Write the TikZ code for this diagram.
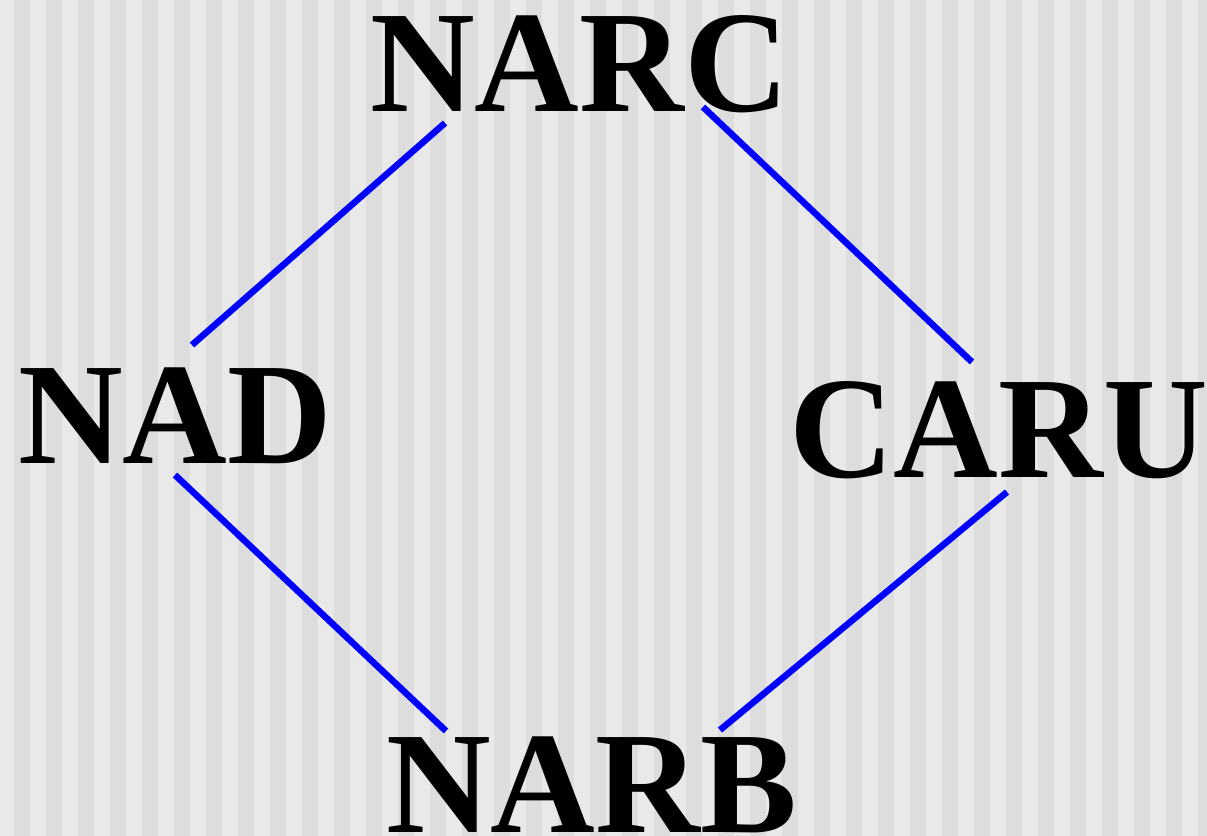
\documentclass[tikz,border=0pt]{standalone}
\usepackage{fontspec}
\setmainfont{Liberation Serif}
\usetikzlibrary{calc}
\definecolor{bglight}{HTML}{E9E9E9}
\definecolor{bgdark}{HTML}{DDDDDD}
\definecolor{linkblue}{HTML}{0000FF}
\tikzset{
  term/.style={anchor=base west, inner sep=0pt, outer sep=0pt,
    text height=99bp, text depth=0bp,
    font=\fontsize{145bp}{150bp}\selectfont\bfseries},
  link/.style={draw=linkblue, line width=6.5bp, line cap=butt}
}
\begin{document}
\begin{tikzpicture}[x=1bp, y=-1bp]
  % striped backdrop
  \fill[bglight] (0,0) rectangle (1207,836);
  \foreach \k in {0,...,37}{
    \fill[bgdark] ({14+32*\k},0) rectangle ({min(30+32*\k,1207)},836);
  }
  \useasboundingbox (0,0) rectangle (1207,836);

  % lattice elements
  \node[term] (narc) at (370,111) {NARC};
  \node[term] (nad)  at (18,463)  {NAD};
  \node[term] (caru) at (789,477) {CARU};
  \node[term] (narb) at (386,832) {NARB};

  % covering relations
  \draw[link] ($(narc.base west)+(75,12)$)  -- ($(nad.base west)+(174,-118)$);
  \draw[link] ($(narc.base west)+(333,-4)$) -- ($(caru.base west)+(183,-115)$);
  \draw[link] ($(nad.base west)+(157,12)$)  -- ($(narb.base west)+(60,-101)$);
  \draw[link] ($(caru.base west)+(218,15)$) -- ($(narb.base west)+(334,-102)$);
\end{tikzpicture}
\end{document}
